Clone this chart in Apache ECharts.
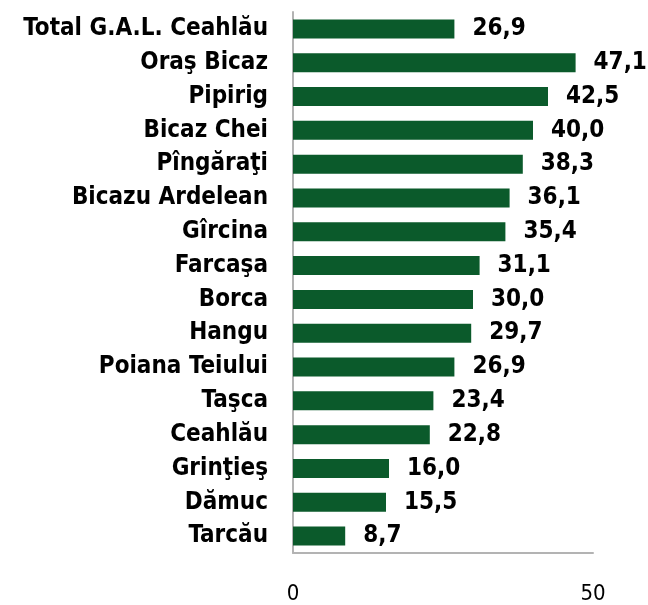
<!DOCTYPE html>
<html>
<head>
<meta charset="utf-8">
<script src="https://cdn.jsdelivr.net/npm/echarts@6/dist/echarts.min.js"></script>
<style>
  html, body { margin: 0; padding: 0; background: #fff; }
  #chart { width: 648px; height: 605px; }
</style>
</head>
<body>
<div id="chart"></div>
<script>
// categories top to bottom, as in the picture
var categories = [
  "Total G.A.L. Ceahlău", "Oraş Bicaz", "Pipirig", "Bicaz Chei", "Pîngăraţi",
  "Bicazu Ardelean", "Gîrcina", "Farcaşa", "Borca", "Hangu",
  "Poiana Teiului", "Taşca", "Ceahlău", "Grinţieş", "Dămuc", "Tarcău"
];
var values = [26.9, 47.1, 42.5, 40.0, 38.3, 36.1, 35.4, 31.1, 30.0, 29.7, 26.9, 23.4, 22.8, 16.0, 15.5, 8.7];
var axisMin = 0;
var axisMax = 50;
var axisStep = 50;

var myChart = echarts.init(document.getElementById("chart"));
var font = "DejaVu Sans Condensed";

var options = {
  animation: false,
  grid: { left: 293, right: 55, top: 12, bottom: 50, containLabel: false },
  xAxis: {
    type: "value",
    min: axisMin,
    max: axisMax,
    interval: axisStep,
    splitLine: { show: false },
    axisTick: { show: false },
    axisLine: { show: true, lineStyle: { color: "#b3b3b3", width: 2 } },
    axisLabel: { margin: 30, color: "#000", fontFamily: font, fontSize: 22 }
  },
  yAxis: {
    type: "category",
    inverse: true,
    data: categories,
    axisTick: { show: false },
    axisLine: { show: true, lineStyle: { color: "#b3b3b3", width: 2 } },
    axisLabel: { margin: 25, color: "#000", fontFamily: font, fontWeight: "bold", fontSize: 24 }
  },
  series: [
    {
      type: "bar",
      data: values,
      barWidth: 19,
      itemStyle: { color: "#0b5a2b" },
      label: {
        show: true,
        position: "right",
        distance: 18,
        color: "#000",
        fontFamily: font,
        fontWeight: "bold",
        fontSize: 24,
        formatter: function (p) { return p.value.toFixed(1).replace(".", ","); }
      }
    }
  ]
};
myChart.setOption(options);
</script>
</body>
</html>
